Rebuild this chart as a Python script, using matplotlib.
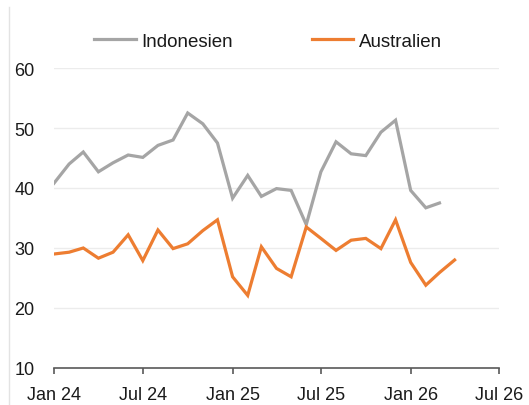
import numpy as np
import pandas as pd
import matplotlib
matplotlib.use("Agg")
import matplotlib.pyplot as plt
import matplotlib.dates as mdates
from matplotlib.lines import Line2D

plt.rcParams['font.family'] = ['Liberation Sans', 'DejaVu Sans']

# ---------------------------------------------------------------------------
# Data (monthly, starting Jan 2024)
# ---------------------------------------------------------------------------
start_month = "2024-01-01"

indonesien = [40.8, 44.0, 46.0, 42.7, 44.2, 45.5, 45.1, 47.1, 48.0, 52.5,
              50.7, 47.5, 38.3, 42.1, 38.6, 39.9, 39.6, 33.9, 42.7, 47.7,
              45.7, 45.4, 49.3, 51.3, 39.6, 36.7, 37.5]

australien = [29.0, 29.3, 30.0, 28.3, 29.3, 32.2, 27.9, 33.0, 29.9, 30.7,
              32.9, 34.7, 25.2, 22.1, 30.2, 26.6, 25.2, 33.5, 31.6, 29.6,
              31.3, 31.6, 29.9, 34.7, 27.6, 23.8, 25.9, 28.0]

tick_dates = ["2024-01-01", "2024-07-01", "2025-01-01",
              "2025-07-01", "2026-01-01", "2026-07-01"]
tick_labels = ["Jan 24", "Jul 24", "Jan 25", "Jul 25", "Jan 26", "Jul 26"]
y_ticks = [10, 20, 30, 40, 50, 60]

GRAY = "#a5a5a5"
ORANGE = "#ed7d31"

# ---------------------------------------------------------------------------
# Figure
# ---------------------------------------------------------------------------
W, H = 529, 406
fig = plt.figure(figsize=(W / 100, H / 100), dpi=100)
ax = fig.add_axes([54 / W, (H - 369) / H, (499 - 54) / W, (369 - 69) / H])

x_ind = pd.date_range(start_month, periods=len(indonesien), freq="MS")
x_aus = pd.date_range(start_month, periods=len(australien), freq="MS")

ax.plot(x_ind, indonesien, color=GRAY, lw=2.3, solid_joinstyle="miter")
ax.plot(x_aus, australien, color=ORANGE, lw=2.3, solid_joinstyle="miter")

ax.set_xlim(pd.Timestamp(tick_dates[0]), pd.Timestamp(tick_dates[-1]))
ax.set_ylim(10, 60)

ax.set_xticks([pd.Timestamp(d) for d in tick_dates])
ax.set_xticklabels(tick_labels)
ax.set_yticks(y_ticks)

ax.tick_params(axis="x", length=4, width=1.2, color="#595959", pad=9,
               labelsize=13, labelcolor="#1a1a1a")
ax.tick_params(axis="y", length=0, pad=14, labelsize=13, labelcolor="#1a1a1a")

for side in ["top", "right", "left"]:
    ax.spines[side].set_visible(False)
ax.spines["bottom"].set_color("#595959")
ax.spines["bottom"].set_linewidth(1.2)

ax.grid(axis="y", color="#ececec", lw=1)
ax.set_axisbelow(True)

# legend above the plot
handles = [Line2D([], [], color=GRAY, lw=2.3),
           Line2D([], [], color=ORANGE, lw=2.3)]
fig.legend(handles, ["Indonesien", "Australien"], loc="center",
           bbox_to_anchor=(268 / W, 1 - 42 / H), ncol=2, frameon=False,
           fontsize=13.5, handlelength=2.2, handletextpad=0.3,
           columnspacing=4.2, labelcolor="#1a1a1a")

# thin frame line at the left edge
fig.add_artist(Line2D([9 / W, 9 / W], [0, 1 - 8 / H], color="#e3e3e3",
                      lw=1, transform=fig.transFigure))

fig.savefig("out.png", dpi=100)
